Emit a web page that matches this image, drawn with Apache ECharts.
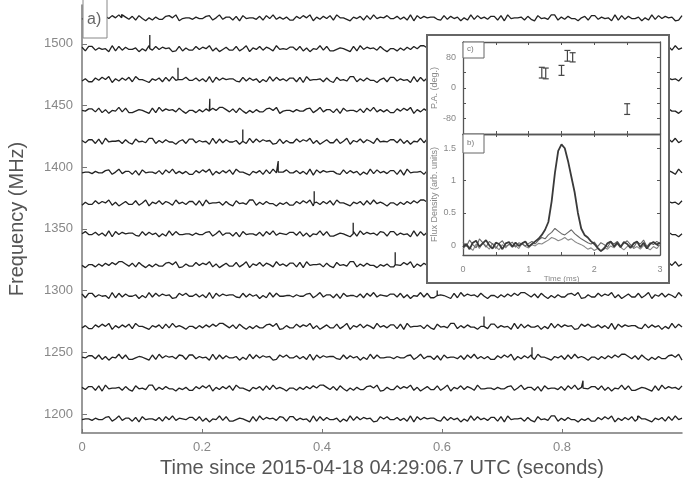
<!DOCTYPE html>
<html><head><meta charset="utf-8">
<script src="https://cdn.jsdelivr.net/npm/echarts@6/dist/echarts.min.js"></script>
<style>html,body{margin:0;padding:0;background:#fff}#c{width:683px;height:480px}</style>
</head><body><div id="c"></div>
<script>
// ---- main waterfall data ----
const channelFreqs = [1196,1221,1246,1271,1296,1321,1346,1371,1396,1421,1446,1471,1496,1521];
const pulseTimes   = [0.926,0.835,0.750,0.670,0.592,0.522,0.452,0.387,0.327,0.268,0.213,0.160,0.113,0.066];
const pulseHeights = [2.5,6,8,8,4,10,9,9.5,9,9.5,9.5,9.5,11,3];
// per-channel noise, one digit per sample (5 = baseline)
const noiseTraces = [
"455364478259366271845537284936547738261549382246531829475638728836451928374461529384756128584473629184756632837461529384637728194556273184539926374415362274859163748295531647283946",
"637728194556273184539926374415362274859163748295531647283946415526374859963728415263378591263384759261473382591648375294455364478259366271845537284936547738261549382246531829475638",
"547738261549382246531829475638728836451928374461529384756128584473629184756632837461529384455364478259366271845537284936362274859163748295531647283946415526374859963728415263378591",
"362274859163748295531647283946415526374859963728415263378591263384759261473382591648375294637728194556273184539926374415728836451928374461529384756128584473629184756632837461529384",
"728836451928374461529384756128584473629184756632837461529384455364478259366271845537284936547738261549382246531829475638415526374859963728415263378591263384759261473382591648375294",
"415526374859963728415263378591263384759261473382591648375294637728194556273184539926374415362274859163748295531647283946584473629184756632837461529384455364478259366271845537284936",
"584473629184756632837461529384455364478259366271845537284936547738261549382246531829475638728836451928374461529384756128263384759261473382591648375294637728194556273184539926374415",
"263384759261473382591648375294637728194556273184539926374415362274859163748295531647283946415526374859963728415263378591455364478259366271845537284936547738261549382246531829475638",
"455364478259366271845537284936362274859163748295531647283946584473629184756632837461529384637728194556273184539926374415728836451928374461529384756128263384759261473382591648375294",
"637728194556273184539926374415728836451928374461529384756128263384759261473382591648375294547738261549382246531829475638415526374859963728415263378591455364478259366271845537284936",
"547738261549382246531829475638415526374859963728415263378591455364478259366271845537284936362274859163748295531647283946584473629184756632837461529384637728194556273184539926374415",
"362274859163748295531647283946584473629184756632837461529384637728194556273184539926374415728836451928374461529384756128263384759261473382591648375294547738261549382246531829475638",
"728836451928374461529384756128263384759261473382591648375294547738261549382246531829475638415526374859963728415263378591455364478259366271845537284936362274859163748295531647283946",
"415526374859963728415263378591455364478259366271845537284936362274859163748295531647283946584473629184756632837461529384637728194556273184539926374415728836451928374461529384756128"
];
const freqTicks = [1200,1250,1300,1350,1400,1450,1500];
const timeTicks = [0,0.2,0.4,0.6,0.8];

// ---- inset data ----
const fluxTimeStep = 0.05;
const fluxTotal = [-0.03,0.02,-0.06,0.04,0.07,-0.02,0.03,0.08,0.00,-0.05,0.04,0.02,-0.06,0.03,0.05,-0.02,0.04,-0.01,0.03,0.06,-0.02,0.02,0.06,0.10,0.16,0.24,0.36,0.68,1.12,1.46,1.56,1.50,1.30,1.06,0.82,0.50,0.26,0.16,0.12,0.06,0.02,-0.04,-0.09,-0.05,0.03,0.06,-0.02,0.04,-0.03,0.05,0.02,-0.04,0.03,0.06,-0.03,0.04,-0.05,0.02,0.05,0.01,0.04];
const fluxLinear = [0.05,-0.02,0.08,0.01,-0.04,0.10,0.04,-0.03,0.06,0.02,-0.05,0.03,0.07,-0.02,0.01,0.05,-0.03,0.04,0.02,-0.01,0.03,0.06,0.02,0.08,0.12,0.10,0.16,0.20,0.26,0.22,0.18,0.16,0.20,0.24,0.18,0.14,0.10,0.07,0.04,0.02,0.05,-0.02,0.04,0.01,-0.03,0.05,0.02,0.06,-0.01,0.03,0.07,0.01,-0.03,0.05,0.02,0.08,-0.02,0.04,0.01,0.06,0.03];
const fluxCircular = [-0.06,0.01,-0.03,-0.08,0.02,-0.05,0.04,-0.01,-0.06,0.03,-0.02,-0.07,0.01,-0.04,0.02,-0.03,0.00,-0.05,0.03,-0.02,-0.04,0.01,-0.01,0.03,0.02,0.05,0.08,0.12,0.10,0.07,0.09,0.12,0.08,0.10,0.06,0.03,0.01,-0.02,-0.06,-0.04,-0.08,-0.05,-0.09,-0.03,-0.06,-0.01,-0.04,0.02,-0.03,-0.07,-0.02,0.01,-0.05,-0.02,-0.06,0.00,-0.04,-0.07,-0.02,-0.05,0.01];
const paTimes  = [1.20,1.26,1.50,1.59,1.67,2.50];
const paValues = [40,38,46,84,80,-55];
const paErrors = [14,14,13,14,12,14];

const FONT = 'Liberation Sans, Arial, sans-serif';
const TMAX = 1.0;
const noiseScale = 0.6;

const mainSeries = channelFreqs.map((f, k) => {
  const s = noiseTraces[k], n = s.length, pts = [];
  let done = false;
  for (let i = 0; i < n; i++) {
    const t = i / (n - 1) * TMAX;
    const y = f + (s.charCodeAt(i) - 53) * noiseScale;
    if (!done && t >= pulseTimes[k]) {
      pts.push([pulseTimes[k], f], [pulseTimes[k], f + pulseHeights[k]], [pulseTimes[k], f]);
      done = true;
    }
    pts.push([t, y]);
  }
  return {type:'line', xAxisIndex:0, yAxisIndex:0, data:pts, symbol:'none', showSymbol:false,
    lineStyle:{width:1.3, color:'#222'}, z:2, silent:true};
});

const toPairs = arr => arr.map((v, i) => [i * fluxTimeStep, v]);
const insetLine = '#555';
function insetX(grid, pos, labels, name) {
  return {type:'value', gridIndex:grid, position:pos, min:0, max:3, interval:0.5, z:7,
    axisLine:{show:true, onZero:false, lineStyle:{color:insetLine, width:1.3}},
    axisTick:{show:true, inside:true, length:3, lineStyle:{color:insetLine}},
    axisLabel:{show:labels, color:'#888', fontSize:9, fontFamily:FONT, margin:10,
      formatter: v => (Math.abs(v % 1) < 1e-9 ? String(Math.round(v)) : '')},
    splitLine:{show:false},
    name: name || '', nameLocation:'middle', nameGap:11,
    nameTextStyle:{color:'#888', fontSize:8, fontFamily:FONT}};
}

const option = {
  animation:false,
  backgroundColor:'#fff',
  grid:[
    {left:82, right:1, top:5, bottom:47, outerBoundsMode:'none', containLabel:false},
    {left:463, top:42, width:197, height:92, z:6, outerBoundsMode:'none', containLabel:false},
    {left:463, top:134, width:197, height:121, z:6, outerBoundsMode:'none', containLabel:false}
  ],
  xAxis:[
    {type:'value', gridIndex:0, min:0, max:TMAX,
      axisLine:{onZero:false, lineStyle:{color:'#777', width:1.5}},
      axisTick:{inside:true, length:4, customValues:timeTicks, lineStyle:{color:'#777'}},
      axisLabel:{customValues:timeTicks, color:'#888', fontSize:13, fontFamily:FONT, margin:8},
      splitLine:{show:false},
      name:'Time since 2015-04-18 04:29:06.7 UTC (seconds)', nameLocation:'middle', nameGap:23,
      nameTextStyle:{color:'#555', fontSize:20, fontFamily:FONT}},
    insetX(1,'bottom',false),
    insetX(1,'top',false),
    insetX(2,'bottom',true,'Time (ms)'),
    insetX(2,'top',false)
  ],
  yAxis:[
    {type:'value', gridIndex:0, min:1184.6, max:1531.4,
      axisLine:{onZero:false, lineStyle:{color:'#777', width:1.5}},
      axisTick:{inside:true, length:5, customValues:freqTicks, lineStyle:{color:'#777'}},
      axisLabel:{customValues:freqTicks, color:'#888', fontSize:13, fontFamily:FONT, margin:9,
        formatter: v => String(v)},
      splitLine:{show:false},
      name:'Frequency (MHz)', nameLocation:'middle', nameGap:55,
      nameTextStyle:{color:'#555', fontSize:20, fontFamily:FONT}},
    {type:'value', gridIndex:1, min:-120, max:120, interval:40, z:7,
      axisLine:{show:true, onZero:false, lineStyle:{color:insetLine, width:1.3}},
      axisTick:{inside:true, length:3, lineStyle:{color:insetLine}},
      axisLabel:{color:'#888', fontSize:9, fontFamily:FONT, margin:7,
        formatter: v => (v % 80 === 0 ? String(v) : '')},
      splitLine:{show:false},
      name:'P.A. (deg.)', nameLocation:'middle', nameGap:24,
      nameTextStyle:{color:'#888', fontSize:9, fontFamily:FONT}},
    {type:'value', gridIndex:1, position:'right', min:-120, max:120, interval:40, z:7,
      axisLine:{show:true, onZero:false, lineStyle:{color:insetLine, width:1.3}},
      axisTick:{inside:true, length:3, lineStyle:{color:insetLine}},
      axisLabel:{show:false}, splitLine:{show:false}},
    {type:'value', gridIndex:2, min:-0.15, max:1.72, z:7,
      axisLine:{show:true, onZero:false, lineStyle:{color:insetLine, width:1.3}},
      axisTick:{inside:true, length:3, customValues:[0,0.5,1,1.5], lineStyle:{color:insetLine}},
      axisLabel:{customValues:[0,0.5,1,1.5], color:'#888', fontSize:9, fontFamily:FONT, margin:7},
      splitLine:{show:false},
      name:'Flux Density (arb. units)', nameLocation:'middle', nameGap:24,
      nameTextStyle:{color:'#888', fontSize:9, fontFamily:FONT}},
    {type:'value', gridIndex:2, position:'right', min:-0.15, max:1.72, z:7,
      axisLine:{show:true, onZero:false, lineStyle:{color:insetLine, width:1.3}},
      axisTick:{inside:true, length:3, customValues:[0,0.5,1,1.5], lineStyle:{color:insetLine}},
      axisLabel:{show:false}, splitLine:{show:false}}
  ],
  series: mainSeries.concat([
    {type:'custom', xAxisIndex:1, yAxisIndex:1, z:8, silent:true,
      data: paTimes.map((t, i) => [t, paValues[i], paErrors[i]]),
      encode:{x:0, y:1},
      renderItem:(params, api) => {
        const t = api.value(0), v = api.value(1), e = api.value(2);
        const a = api.coord([t, v + e]), b = api.coord([t, v - e]);
        const w = 3, st = {stroke:'#444', lineWidth:1.2};
        return {type:'group', children:[
          {type:'line', shape:{x1:a[0], y1:a[1], x2:b[0], y2:b[1]}, style:st},
          {type:'line', shape:{x1:a[0]-w, y1:a[1], x2:a[0]+w, y2:a[1]}, style:st},
          {type:'line', shape:{x1:b[0]-w, y1:b[1], x2:b[0]+w, y2:b[1]}, style:st}
        ]};
      }},
    {type:'line', xAxisIndex:3, yAxisIndex:3, z:8, data:toPairs(fluxCircular), symbol:'none',
      lineStyle:{width:1.1, color:'#888'}, silent:true},
    {type:'line', xAxisIndex:3, yAxisIndex:3, z:8, data:toPairs(fluxLinear), symbol:'none',
      lineStyle:{width:1.1, color:'#666'}, silent:true},
    {type:'line', xAxisIndex:3, yAxisIndex:3, z:9, data:toPairs(fluxTotal), symbol:'none',
      lineStyle:{width:1.8, color:'#3a3a3a'}, silent:true}
  ]),
  graphic:[
    {type:'rect', z:5, shape:{x:83, y:-2, width:24, height:40}, style:{fill:'#fff', stroke:'#888', lineWidth:1}},
    {type:'text', z:6, x:87, y:12, style:{text:'a)', fontSize:16, fontFamily:FONT, fill:'#666'}},
    {type:'rect', z:5, shape:{x:427, y:35, width:242, height:248}, style:{fill:'#fff', stroke:'#666', lineWidth:2}},
    {type:'rect', z:10, shape:{x:463, y:42, width:21, height:16}, style:{fill:'#fff', stroke:'#666', lineWidth:1}},
    {type:'text', z:11, x:467, y:45, style:{text:'c)', fontSize:8, fontFamily:FONT, fill:'#777'}},
    {type:'rect', z:10, shape:{x:463, y:134, width:21, height:19}, style:{fill:'#fff', stroke:'#666', lineWidth:1}},
    {type:'text', z:11, x:467, y:139, style:{text:'b)', fontSize:8, fontFamily:FONT, fill:'#777'}}
  ]
};
const chart = echarts.init(document.getElementById('c'), null, {renderer:'canvas'});
chart.setOption(option);
</script>
</body></html>
